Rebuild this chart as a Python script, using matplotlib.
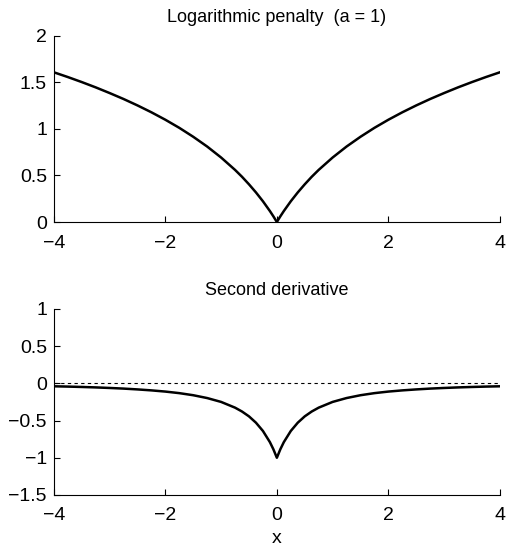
import matplotlib
matplotlib.use('Agg')
import matplotlib.pyplot as plt
import numpy as np

plt.rcParams['font.family'] = ['Liberation Sans', 'DejaVu Sans']

# values, x >= 0 (both curves are symmetric about x = 0)
x_half = [0, 0.0625, 0.125, 0.25, 0.375, 0.5, 0.625, 0.75, 1, 1.25, 1.5,
          1.75, 2, 2.25, 2.5, 2.75, 3, 3.25, 3.5, 3.75, 4]
penalty_half = [0, 0.061, 0.118, 0.223, 0.318, 0.405, 0.486, 0.560, 0.693,
                0.811, 0.916, 1.012, 1.099, 1.179, 1.253, 1.322, 1.386,
                1.447, 1.504, 1.558, 1.609]
second_half = [-1, -0.886, -0.790, -0.640, -0.529, -0.444, -0.379, -0.327,
               -0.25, -0.198, -0.160, -0.132, -0.111, -0.095, -0.082, -0.071,
               -0.0625, -0.055, -0.049, -0.044, -0.040]

x = np.concatenate([-np.array(x_half[:0:-1]), x_half])
penalty = np.concatenate([penalty_half[:0:-1], penalty_half])
second = np.concatenate([second_half[:0:-1], second_half])

fig = plt.figure(figsize=(5.08, 5.49), dpi=100)
ax1 = fig.add_axes([0.106, 0.5956, 0.878, 0.339])
ax2 = fig.add_axes([0.106, 0.0984, 0.878, 0.339])

ax1.plot(x, penalty, color='black', lw=1.8)
ax1.set_xlim(-4, 4)
ax1.set_ylim(0, 2)
ax1.set_xticks([-4, -2, 0, 2, 4])
ax1.set_yticks([0, 0.5, 1, 1.5, 2])
ax1.set_yticklabels(['0', '0.5', '1', '1.5', '2'])
ax1.set_title('Logarithmic penalty  (a = 1)', fontsize=13, pad=10)

ax2.axhline(0, color='black', lw=0.8, ls=(0, (3, 3)))
ax2.plot(x, second, color='black', lw=1.8)
ax2.set_xlim(-4, 4)
ax2.set_ylim(-1.5, 1)
ax2.set_xticks([-4, -2, 0, 2, 4])
ax2.set_yticks([-1.5, -1, -0.5, 0, 0.5, 1])
ax2.set_yticklabels(['\u22121.5', '\u22121', '\u22120.5', '0', '0.5', '1'])
ax2.set_title('Second derivative', fontsize=13, pad=10)
ax2.set_xlabel('x', fontsize=14, labelpad=4)

# оформление осей
for ax in (ax1, ax2):
    ax.spines['top'].set_visible(False)
    ax.spines['right'].set_visible(False)
    ax.spines['left'].set_linewidth(0.8)
    ax.spines['bottom'].set_linewidth(0.8)
    ax.tick_params(direction='in', length=4, width=0.8, labelsize=14)
    ax.tick_params(axis='y', pad=5)
    ax.tick_params(axis='x', pad=9)
    ax.set_xticklabels(['\u22124', '\u22122', '0', '2', '4'])

fig.savefig('out.png', dpi=100)
